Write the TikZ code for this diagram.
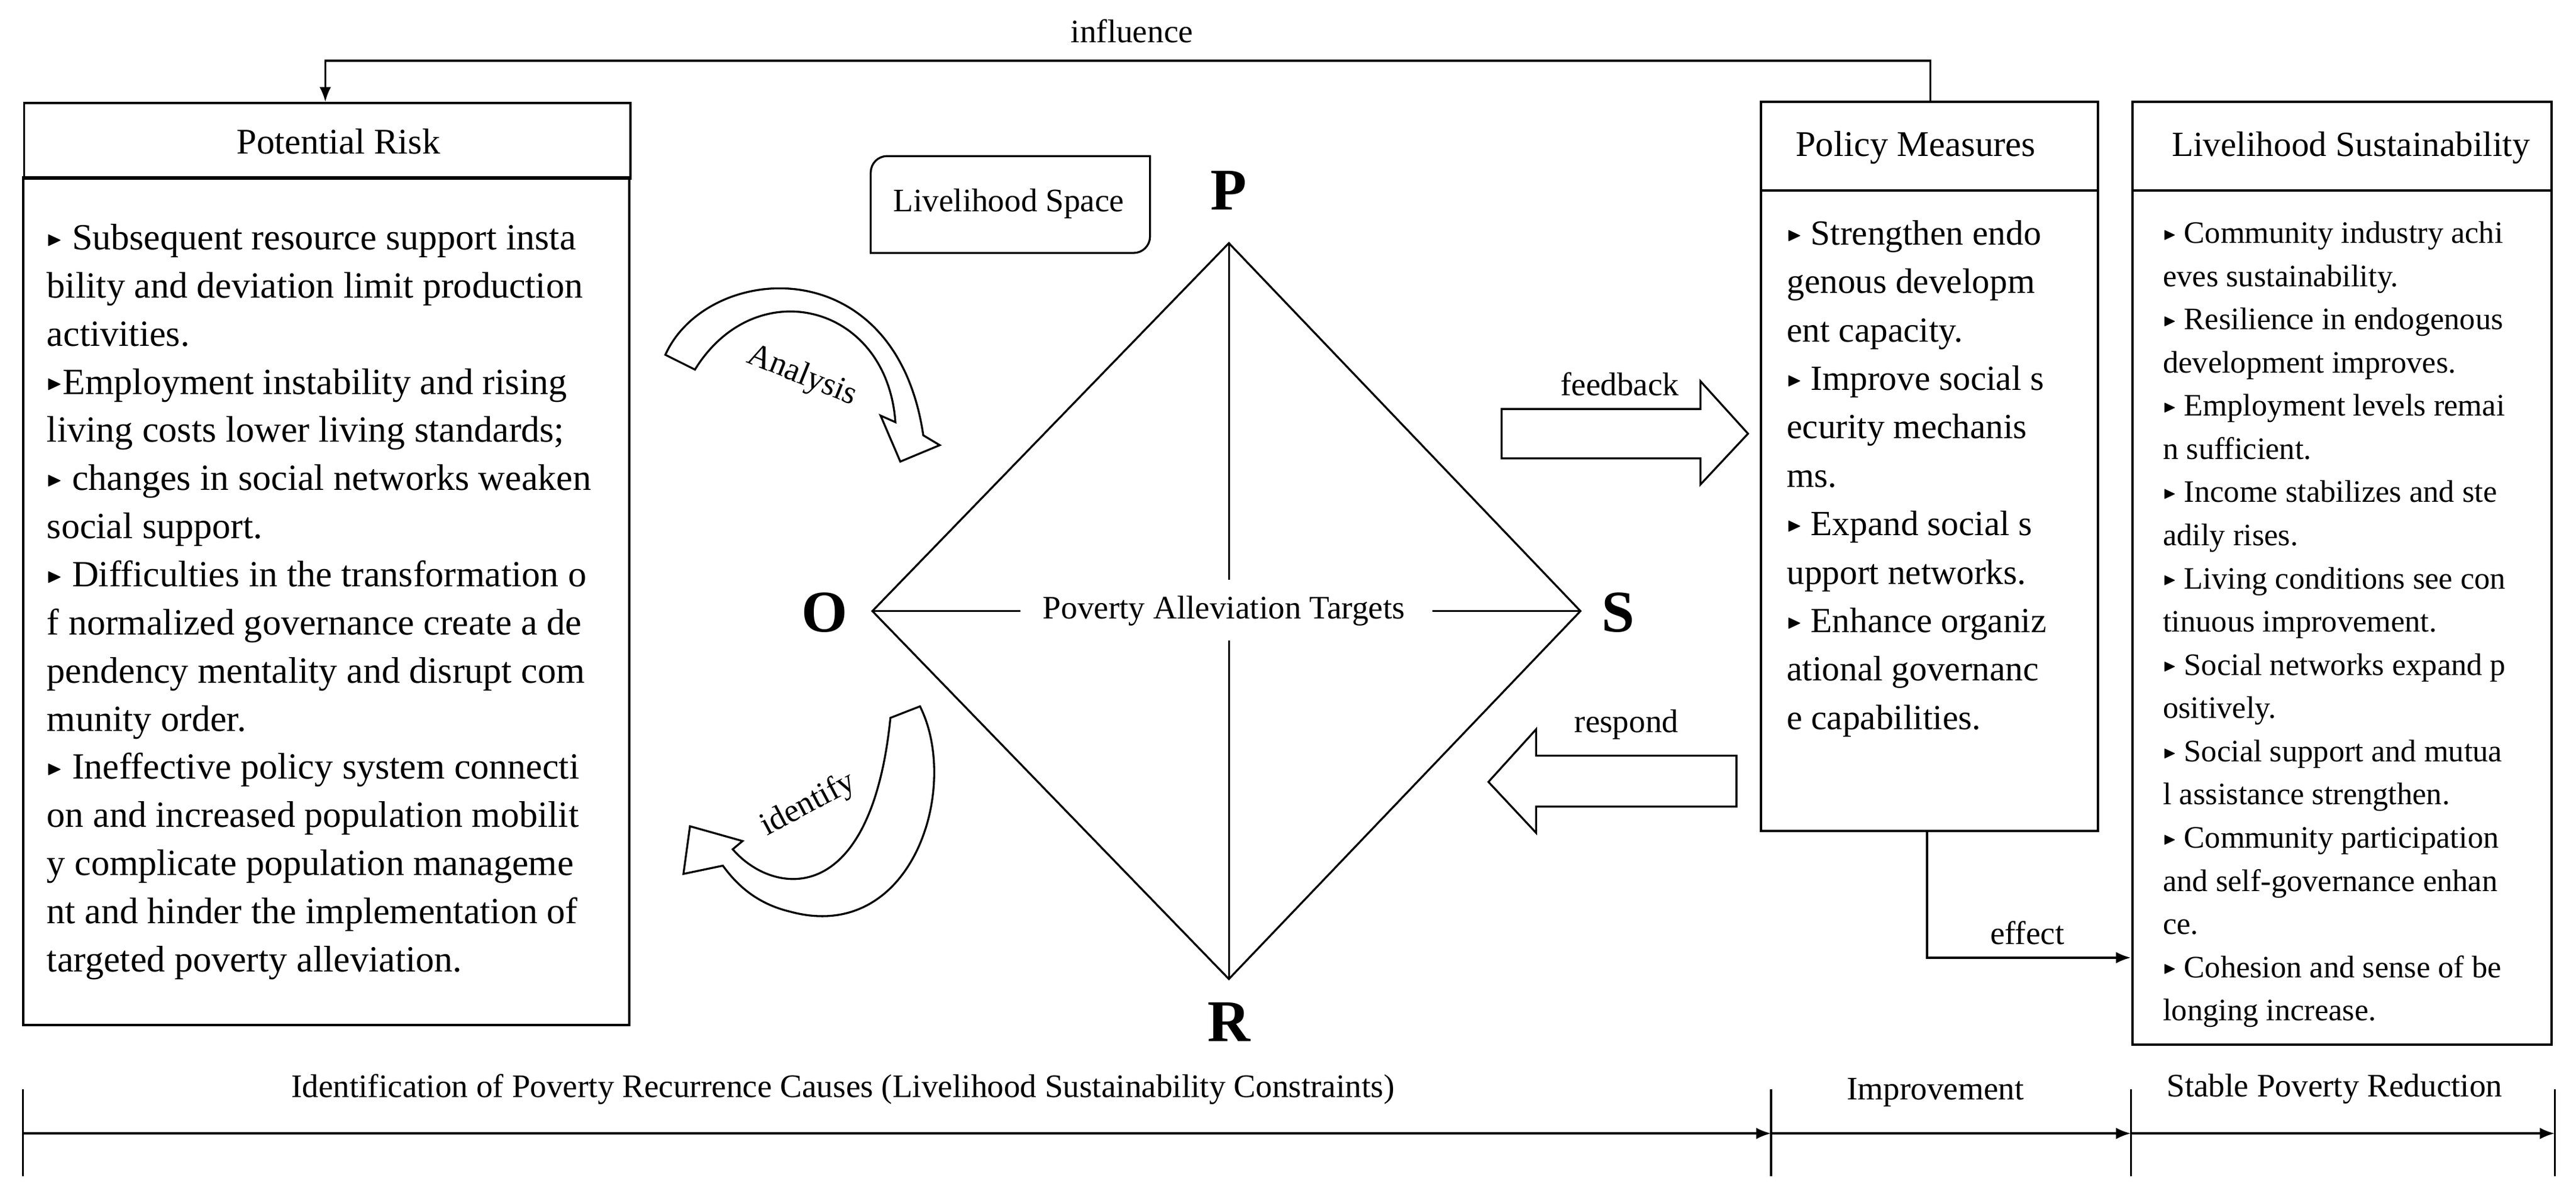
\documentclass[tikz,border=0pt]{standalone}
\usepackage{fontspec}
\usepackage{amssymb}
\usetikzlibrary{arrows.meta}
\setmainfont{Liberation Serif}
\newcommand{\bl}{\raisebox{0.12em}{\scalebox{0.55}{$\blacktriangleright$}}}
\begin{document}
\begin{tikzpicture}[x=1pt,y=-1pt,line width=1.2pt,
  box/.style={draw,line width=1.4pt},
  lab/.style={font=\fontsize{20}{20}\selectfont,inner sep=1pt},
  big/.style={font=\fontsize{36}{36}\selectfont\bfseries},
  ln/.style={anchor=base west,inner sep=0pt},
  hollow/.style={draw,line width=1.2pt,fill=white,line join=miter},
  arr/.style={-{Latex[length=9pt,width=7pt]}}]
\useasboundingbox (0,0) rectangle (1568,732);
% Potential Risk
\node[box,minimum width=369pt,minimum height=46pt,anchor=north west] (prh) at (14,62) {};
\draw[box] (14,108) rectangle (383,624);
\node[font=\fontsize{22}{22}\selectfont] (prt) at (206,86) {Potential Risk};
\begin{scope}[font=\fontsize{22.5}{22.5}\selectfont]
\foreach \t [count=\i from 0] in {{\bl{} Subsequent resource support insta},{bility and deviation limit production},{activities.},{ \bl{}Employment instability and rising},{living costs lower living standards;},{\bl{} changes in social networks weaken},{social support.},{\bl{} Difficulties in the transformation o},{f normalized governance create a de},{pendency mentality and disrupt com},{munity order.},{\bl{} Ineffective policy system connecti},{on and increased population mobilit},{y complicate population manageme},{nt and hinder the implementation of},{targeted poverty alleviation.}}
  \node[ln] (pr\i) at (28,152+29.3*\i) {\t};
\end{scope}
% Livelihood space
\draw[line width=1.2pt] (540,95) -- (700,95) -- (700,144) arc[start angle=0,end angle=90,radius=10] -- (530,154) -- (530,105) arc[start angle=180,end angle=270,radius=10];
\node[font=\fontsize{20}{20}\selectfont] (ls) at (614,124) {Livelihood Space};
% Diamond
\coordinate (P) at (748,148); \coordinate (O) at (531,372);
\coordinate (S) at (962,372); \coordinate (R) at (748,596);
\draw (P) -- (S) -- (R) -- (O) -- cycle;
\node[font=\fontsize{20}{20}\selectfont] (pat) at (745,372) {Poverty Alleviation Targets};
\draw (P) -- (748,353); \draw (748,390) -- (R);
\draw (O) -- (621,372); \draw (872,372) -- (S);
\node[big] (lP) at (748,116) {P};
\node[big] (lO) at (502,373) {O};
\node[big] (lS) at (985,373) {S};
\node[big] (lR) at (748,622) {R};
% Analysis arrow
\draw[hollow] (405,216) .. controls (430,160) and (545,150) .. (562,265) -- (572,271) -- (548,281) -- (536,253) -- (545,257) .. controls (540,185) and (460,165) .. (423,225) -- cycle;
\node[lab,rotate=-22] (an) at (488,229) {Analysis};
% identify arrow
\draw[hollow] (560,430) .. controls (585,480) and (555,575) .. (481,555) .. controls (460,550) and (448,538) .. (440,527) -- (416,532) -- (420,503) -- (452,512) -- (446,517) .. controls (470,545) and (530,555) .. (542,437) -- cycle;
\node[lab,rotate=28] (id) at (492,490) {identify};
% feedback arrow
\draw[hollow] (914,249) -- (1035,249) -- (1035,232) -- (1064,264) -- (1035,295) -- (1035,279) -- (914,279) -- cycle;
\node[lab] (fb) at (986,234) {feedback};
% respond arrow
\draw[hollow] (1057,460) -- (935,460) -- (935,444) -- (906,476) -- (935,507) -- (935,491) -- (1057,491) -- cycle;
\node[lab] (rs) at (990,441) {respond};
% Policy Measures
\draw[box] (1072,62) rectangle (1277,506);
\draw[box] (1072,116) -- (1277,116);
\node[font=\fontsize{22}{22}\selectfont] (pmt) at (1166,90) {Policy Measures};
\begin{scope}[font=\fontsize{21.5}{21.5}\selectfont]
\foreach \t [count=\i from 0] in {{\bl{} Strengthen endo},{genous developm},{ent capacity.},{\bl{} Improve social s},{ecurity mechanis},{ms.},{\bl{} Expand social s},{upport networks.},{\bl{} Enhance organiz},{ational governanc},{e capabilities.}}
  \node[ln] (pm\i) at (1087,149+29.5*\i) {\t};
\end{scope}
% Livelihood Sustainability
\draw[box] (1298,62) rectangle (1553,636);
\draw[box] (1298,116) -- (1553,116);
\node[font=\fontsize{21.5}{21.5}\selectfont] (lst) at (1431,90) {Livelihood Sustainability};
\begin{scope}[font=\fontsize{19}{19}\selectfont]
\foreach \t [count=\i from 0] in {{\bl{} Community industry achi},{eves sustainability.},{\bl{} Resilience in endogenous},{development improves.},{\bl{} Employment levels remai},{n sufficient.},{\bl{} Income stabilizes and ste},{adily rises.},{\bl{} Living conditions see con},{tinuous improvement.},{\bl{} Social networks expand p},{ositively.},{\bl{} Social support and mutua},{l assistance strengthen.},{\bl{} Community participation},{and self-governance enhan},{ce.},{\bl{} Cohesion and sense of be},{longing increase.}}
  \node[ln] (ls\i) at (1316,148+26.3*\i) {\t};
\end{scope}
% influence
\coordinate (inf1) at (1175,62);
\coordinate (inf2) at (198,62);
\draw[arr] (inf1) -- (1175,37) -- (198,37) -- (inf2);
\node[lab] (infl) at (689,19) {influence};
% effect
\coordinate (ef1) at (1173,506);
\coordinate (ef2) at (1297,583);
\draw[arr] (ef1) |- (ef2);
\node[lab] (efl) at (1234,568) {effect};
% timeline
\coordinate (t0) at (14,690); \coordinate (t1) at (1078,690);
\coordinate (t2) at (1297,690); \coordinate (t3) at (1555,690);
\foreach \x in {14,1078,1297,1555} \draw (\x,663) -- (\x,716);
\draw[arr] (t0) -- (t1);
\draw[arr] (t1) -- (t2);
\draw[arr] (t2) -- (t3);
\node[lab] (tl1) at (513,663) {Identification of Poverty Recurrence Causes (Livelihood Sustainability Constraints)};
\node[lab] (tl2) at (1178,665) {Improvement};
\node[lab] (tl3) at (1421,663) {Stable Poverty Reduction};
\end{tikzpicture}
\end{document}
